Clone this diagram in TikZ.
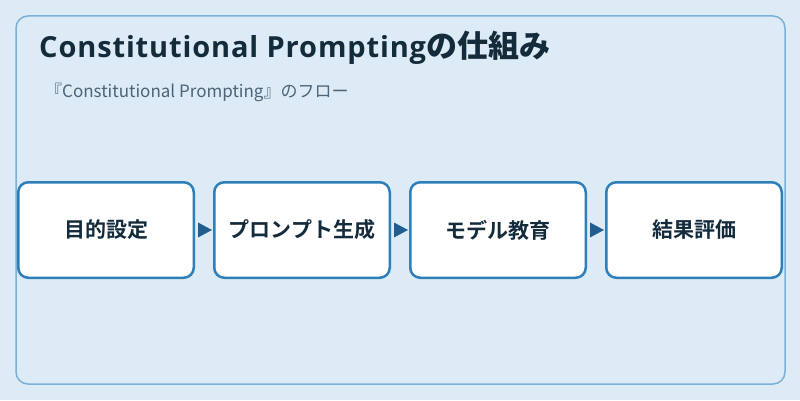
\documentclass[tikz,border=0pt]{standalone}
\usepackage{fontspec}
\setmainfont{Open Sans}
\newfontfamily\cjkfont{Noto Sans CJK JP}
\newfontfamily\cjkbold{Noto Sans CJK JP Bold}
\usepackage{xcolor}
\usepackage{tikz}
\usetikzlibrary{
    positioning,
    arrows.meta,
    calc
}
\definecolor{bgblue}{HTML}{DCEBF6}
\definecolor{frameblue}{HTML}{7BB1D6}
\definecolor{boxblue}{HTML}{2E7FB7}
\definecolor{tipblue}{HTML}{1F5E8E}
\definecolor{titleink}{HTML}{142B3C}
\definecolor{subink}{HTML}{4B6478}
\tikzset{
  panel/.style = {
      draw=frameblue,
      line width=1.5pt,
      rounded corners=12pt,
      fill=bgblue
  },
  stage/.style = {
      draw=boxblue,
      line width=2.5pt,
      fill=white,
      rounded corners=10pt,
      minimum width=175.5pt,
      minimum height=95.5pt,
      inner sep=0pt,
      font=\cjkbold\fontsize{21pt}{24pt}\selectfont,
      text=titleink,
      align=center
  },
  flow/.style = {
      draw=none,
      fill=tipblue
  }
}
\begin{document}
\begin{tikzpicture}[x=1pt,y=1pt,node distance=18pt]
    \fill[bgblue] (0,0) rectangle (800,400);
    \useasboundingbox (0,0) rectangle (800,400);
    % Frame
    \draw[panel] (16,16) rectangle (785,384);
    % Titles
    \node[anchor=base west, inner sep=0pt, text=titleink,
          font=\bfseries\fontsize{29pt}{32pt}\selectfont\addfontfeature{LetterSpace=3}] (title) at (39,343)
        {Constitutional Prompting{\cjkbold\fontsize{31pt}{32pt}\selectfont の仕組み}};
    \node[anchor=base west, inner sep=0pt, text=subink,
          font=\cjkfont\fontsize{17pt}{19pt}\selectfont] (sub) at (45,303)
        {『Constitutional Prompting』のフロー};
    % Stages
    \node[stage] (goal) at (106,170) {目的設定};
    \node[stage, right=of goal] (prompt) {プロンプト生成};
    \node[stage, right=of prompt] (train) {モデル教育};
    \node[stage, right=of train] (eval) {結果評価};
    % Arrows
    \foreach \a/\b in {goal/prompt, prompt/train, train/eval}
      \path[flow] ($(\a.east)+(3,7.5)$) -- ($(\b.west)+(-1,0)$)
                  -- ($(\a.east)+(3,-7.5)$) -- cycle;
\end{tikzpicture}
\end{document}
